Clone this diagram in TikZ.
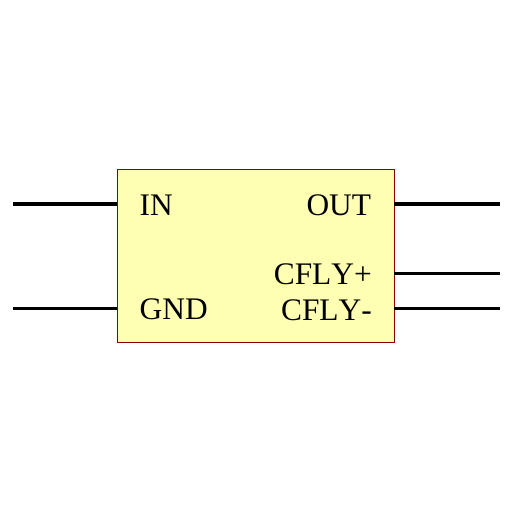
\documentclass[tikz,border=0pt]{standalone}
\usepackage{fontspec}
\setmainfont[Kerning=Off]{Liberation Serif}
\definecolor{boxfill}{HTML}{FFFFB3}
\definecolor{boxline}{HTML}{8B0000}
\tikzset{
  chip/.style={draw=boxline,fill=boxfill,line width=0.75pt,inner sep=0pt,minimum width=277pt,minimum height=173pt,anchor=north west},
  pinlabel/.style={font=\fontsize{31.4}{31.4}\selectfont,inner sep=0pt},
  wire/.style={draw=black,line width=3.5pt}
}
\begin{document}
\begin{tikzpicture}[x=1pt,y=-1pt]
\useasboundingbox (0,0) rectangle (512,512);
\node[chip] (box) at (116.5,168.5) {};
\coordinate (inL) at (13,204.2);
\coordinate (gndL) at (13,308.7);
\coordinate (outR) at (499.5,204.2);
\coordinate (cpR) at (499.5,273.7);
\coordinate (cmR) at (499.5,308.7);
\coordinate (inB) at (box.north west |- inL);
\coordinate (gndB) at (box.north west |- gndL);
\coordinate (outB) at (box.north east |- outR);
\coordinate (cpB) at (box.north east |- cpR);
\coordinate (cmB) at (box.north east |- cmR);
\draw[wire] (inL) -- (inB);
\draw[wire] (gndL) -- (gndB);
\draw[wire] (outB) -- (outR);
\draw[wire] (cpB) -- (cpR);
\draw[wire] (cmB) -- (cmR);
\node[pinlabel,anchor=base west] (in) at (139.5,215) {IN};
\node[pinlabel,anchor=base west] (gnd) at (139.5,319) {GND};
\node[pinlabel,anchor=base east] (out) at (371.3,215) {OUT};
\node[pinlabel,anchor=base east] (cp) at (372,284.5) {CFLY+};
\node[pinlabel,anchor=base east] (cm) at (372,320) {CFLY-};
\end{tikzpicture}
\end{document}
